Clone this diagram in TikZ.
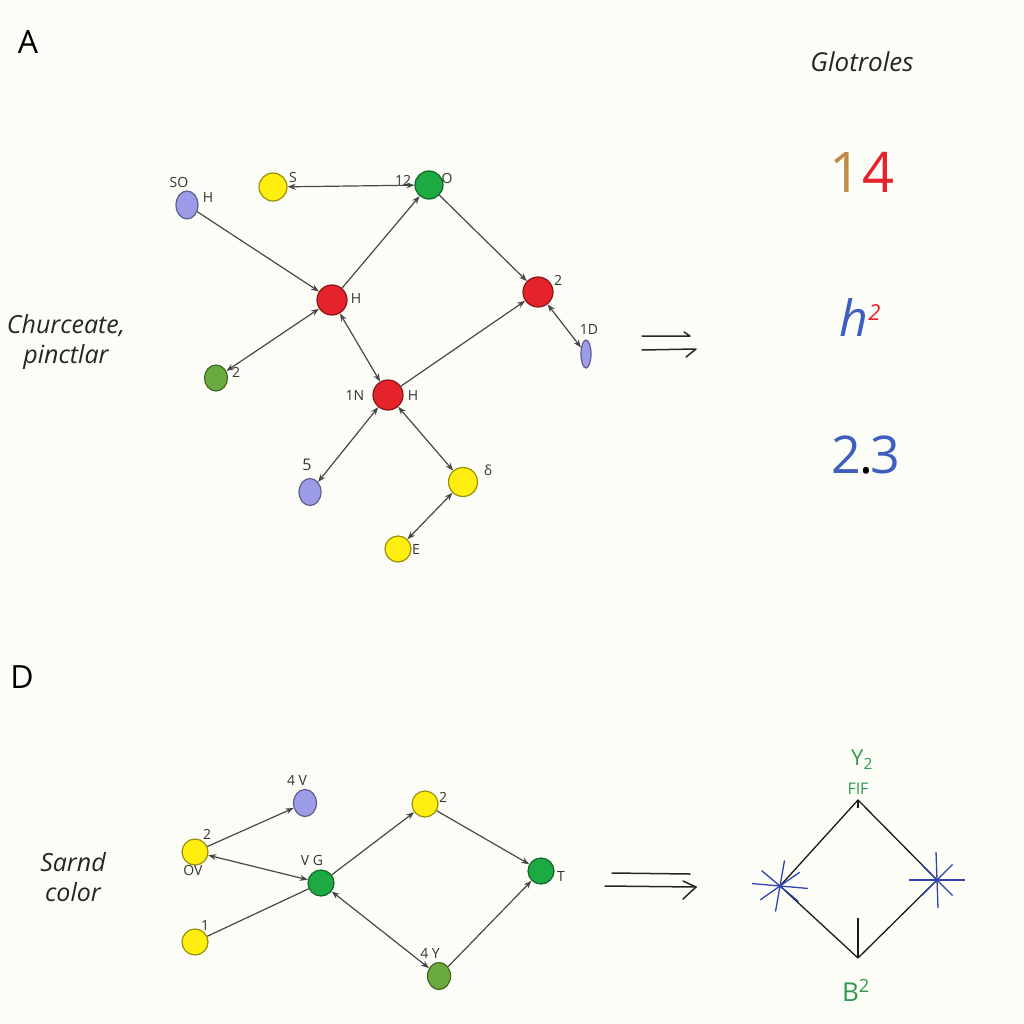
\documentclass[tikz,border=0pt]{standalone}
\usepackage{fontspec}
\setmainfont{Open Sans}
\usetikzlibrary{arrows.meta,shapes.geometric,calc}
\definecolor{bg}{HTML}{FDFDF8}
\definecolor{nred}{HTML}{E5232A}
\definecolor{ngreen}{HTML}{1DAA43}
\definecolor{nolive}{HTML}{6AAA3E}
\definecolor{nyellow}{HTML}{FFEE10}
\definecolor{npurple}{HTML}{9C9CE8}
\definecolor{tan}{HTML}{C08A48}
\definecolor{mblue}{HTML}{3F5FC0}
\definecolor{dgreen}{HTML}{2E9A50}
\definecolor{sblue}{HTML}{2E44B0}
\tikzset{
  dot/.style={draw=#1!60!black, fill=#1, line width=1.2pt, circle, inner sep=0pt, minimum size=28pt},
  oval/.style={draw=#1!60!black, fill=#1, line width=1.2pt, ellipse, inner sep=0pt},
  lbl/.style={font=\fontsize{14}{16}\selectfont, text=black!80, inner sep=0pt},
  conn/.style={draw=black!72, line width=1.2pt},
  tip/.style={-{Stealth[length=8pt,width=6pt]}},
  both/.style={{Stealth[length=8pt,width=6pt]}-{Stealth[length=8pt,width=6pt]}},
  title/.style={font=\fontsize{32}{36}\selectfont, inner sep=0pt},
  side/.style={font=\fontsize{25}{30}\selectfont\itshape, align=center, inner sep=0pt, text=black!85},
  pen/.style={black!85, line width=1.5pt, line cap=round, line join=round},
}
\begin{document}
\begin{tikzpicture}[x=1pt,y=-1pt]
\fill[bg] (0,0) rectangle (1024,1024);
\useasboundingbox (0,0) rectangle (1024,1024);

% ---- titles
\node[title] (tA) at (28,42) {A};
\node[title] (tD) at (22,677) {D};
\node[side] (s1) at (66,342) {Churceate,\\pinctlar};
\node[side] (s2) at (73,877) {Sarnd\\color};
\node[font=\fontsize{26}{30}\selectfont\itshape, text=black!85, inner sep=0pt] (glo) at (862,62) {Glotroles};

% ---- top graph nodes
\node[oval=npurple, minimum width=22pt, minimum height=28pt] (a) at (187,205) {};
\node[dot=nyellow] (b) at (273,187) {};
\node[dot=ngreen] (c) at (429,185) {};
\node[dot=nred, minimum size=30pt] (d) at (332,300) {};
\node[dot=nred, minimum size=30pt] (e) at (538,292) {};
\node[oval=npurple, minimum width=10pt, minimum height=28pt] (f) at (586,354) {};
\node[oval=nolive, minimum width=23pt, minimum height=26pt] (g) at (216,378) {};
\node[dot=nred, minimum size=30pt] (h) at (388,395) {};
\node[oval=npurple, minimum width=22pt, minimum height=27pt] (i) at (310,492) {};
\node[dot=nyellow, minimum size=29pt] (j) at (463,482) {};
\node[dot=nyellow, minimum size=26pt] (k) at (398,549) {};

\node[lbl] (la1) at (179,182) {SO};
\node[lbl] (la2) at (208,198) {H};
\node[lbl] (lb) at (293,178) {S};
\node[lbl] (lc1) at (403,180) {12};
\node[lbl] (lc2) at (447,178) {O};
\node[lbl] (ld) at (356,299) {H};
\node[lbl] (le) at (558,280) {2};
\node[lbl] (lf) at (589,330) {1D};
\node[lbl] (lg) at (236,372) {2};
\node[lbl] (lh1) at (355,395) {1N};
\node[lbl] (lh2) at (413,395) {H};
\node[lbl, font=\fontsize{16}{18}\selectfont] (li) at (307,465) {5};
\node[lbl] (lj) at (488,470) {δ};
\node[lbl] (lk) at (416,549) {E};

% ---- top graph connectors
\draw[conn,tip] (a) -- (d);
\draw[conn,both] (b) -- (c);
\draw[conn,tip] (d) -- (c);
\draw[conn,tip] (c) -- (e);
\draw[conn,both] (d) -- (g);
\draw[conn,both] (d) -- (h);
\draw[conn,tip] (h) -- (e);
\draw[conn,both] (e) -- (f);
\draw[conn,both] (h) -- (i);
\draw[conn,both] (h) -- (j);
\draw[conn,both] (j) -- (k);

% ---- top right symbols
\node[font=\fontsize{56}{60}\selectfont, inner sep=0pt] (n14) at (862,172) {\textcolor{tan}{1}\textcolor{nred}{4}};
\node[font=\fontsize{50}{54}\selectfont\itshape, inner sep=0pt] (nh2) at (860,318) {\textcolor{mblue}{h}\raisebox{16pt}{\fontsize{22}{24}\selectfont\textcolor{nred}{2}}};
\node[font=\fontsize{52}{56}\selectfont, inner sep=0pt] (n23) at (866,455) {\textcolor{mblue}{2}\kern-2pt\textcolor{black}{.}\kern-2pt\textcolor{mblue}{3}};

% ---- top double arrow
\coordinate (ar1s) at (642,336);
\coordinate (ar1e) at (690,336);
\coordinate (ar2s) at (642,350);
\coordinate (ar2e) at (696,349);
\draw[pen] (ar1s) -- (ar1e) -- ++(-6,-4);
\draw[pen] (ar2s) -- (ar2e) -- ++(-10,8);

% ---- bottom graph nodes
\node[dot=nyellow, minimum size=26pt] (p) at (195,852) {};
\node[oval=npurple, minimum width=23pt, minimum height=27pt] (q) at (305,803) {};
\node[dot=nyellow, minimum size=26pt] (r) at (195,942) {};
\node[dot=ngreen, minimum size=26pt] (s) at (321,883) {};
\node[dot=nyellow, minimum size=26pt] (t) at (425,804) {};
\node[dot=ngreen, minimum size=26pt] (u) at (541,871) {};
\node[oval=nolive, minimum width=23pt, minimum height=27pt] (v) at (439,976) {};

\node[lbl] (lp1) at (207,834) {2};
\node[lbl] (lp2) at (193,870) {OV};
\node[lbl] (lq) at (297,780) {4 V};
\node[lbl] (lr) at (205,925) {1};
\node[lbl] (ls) at (312,860) {V G};
\node[lbl] (lt) at (443,797) {2};
\node[lbl] (lu) at (561,876) {T};
\node[lbl] (lv) at (430,953) {4 Y};

% ---- bottom graph connectors
\draw[conn,tip] (p) -- (q);
\draw[conn,both] (p) -- (s);
\draw[conn] (r) -- (s);
\draw[conn,tip] (s) -- (t);
\draw[conn,tip] (t) -- (u);
\draw[conn,both] (s) -- (v);
\draw[conn,tip] (v) -- (u);

% ---- bottom double arrow
\coordinate (br1s) at (612,873);
\coordinate (br1e) at (690,874);
\coordinate (br2s) at (605,886);
\coordinate (br2e) at (696,887);
\draw[pen] (br1s) -- (br1e);
\draw[pen] (br2s) -- (br2e);
\draw[pen] ($(br2e)+(-13,-6)$) -- (br2e) -- ++(-13,12);

% ---- diamond
\coordinate (dtop) at (858,800);
\coordinate (dleft) at (780,886);
\coordinate (dright) at (937,880);
\coordinate (dbot) at (858,958);
\coordinate (dmid) at (858,918);
\draw[black!90, line width=1.3pt, line join=round] (dtop) -- (dleft) -- (dbot) -- (dright) -- cycle;
\draw[black!90, line width=1.3pt] (dmid) -- (dbot);
\draw[black!90, line width=1.3pt] (dtop) -- ++(0,8);
\foreach \ang/\len in {5/28,40/24,100/26,145/24} {
  \draw[sblue, line width=1.3pt] (dleft) ++(\ang:-\len) -- ++(\ang:2*\len);
}
\foreach \ang/\len in {0/28,45/22,88/28,135/22} {
  \draw[sblue, line width=1.3pt] (dright) ++(\ang:-\len) -- ++(\ang:2*\len);
}
\node[font=\fontsize{22}{24}\selectfont, text=dgreen, inner sep=0pt] (y2) at (862,760) {Y\textsubscript{2}};
\node[font=\fontsize{16}{18}\selectfont, text=dgreen, inner sep=0pt] (fif) at (858,789) {FIF};
\node[font=\fontsize{26}{28}\selectfont, text=dgreen, inner sep=0pt] (b2) at (856,990) {B\textsuperscript{2}};
\end{tikzpicture}
\end{document}
